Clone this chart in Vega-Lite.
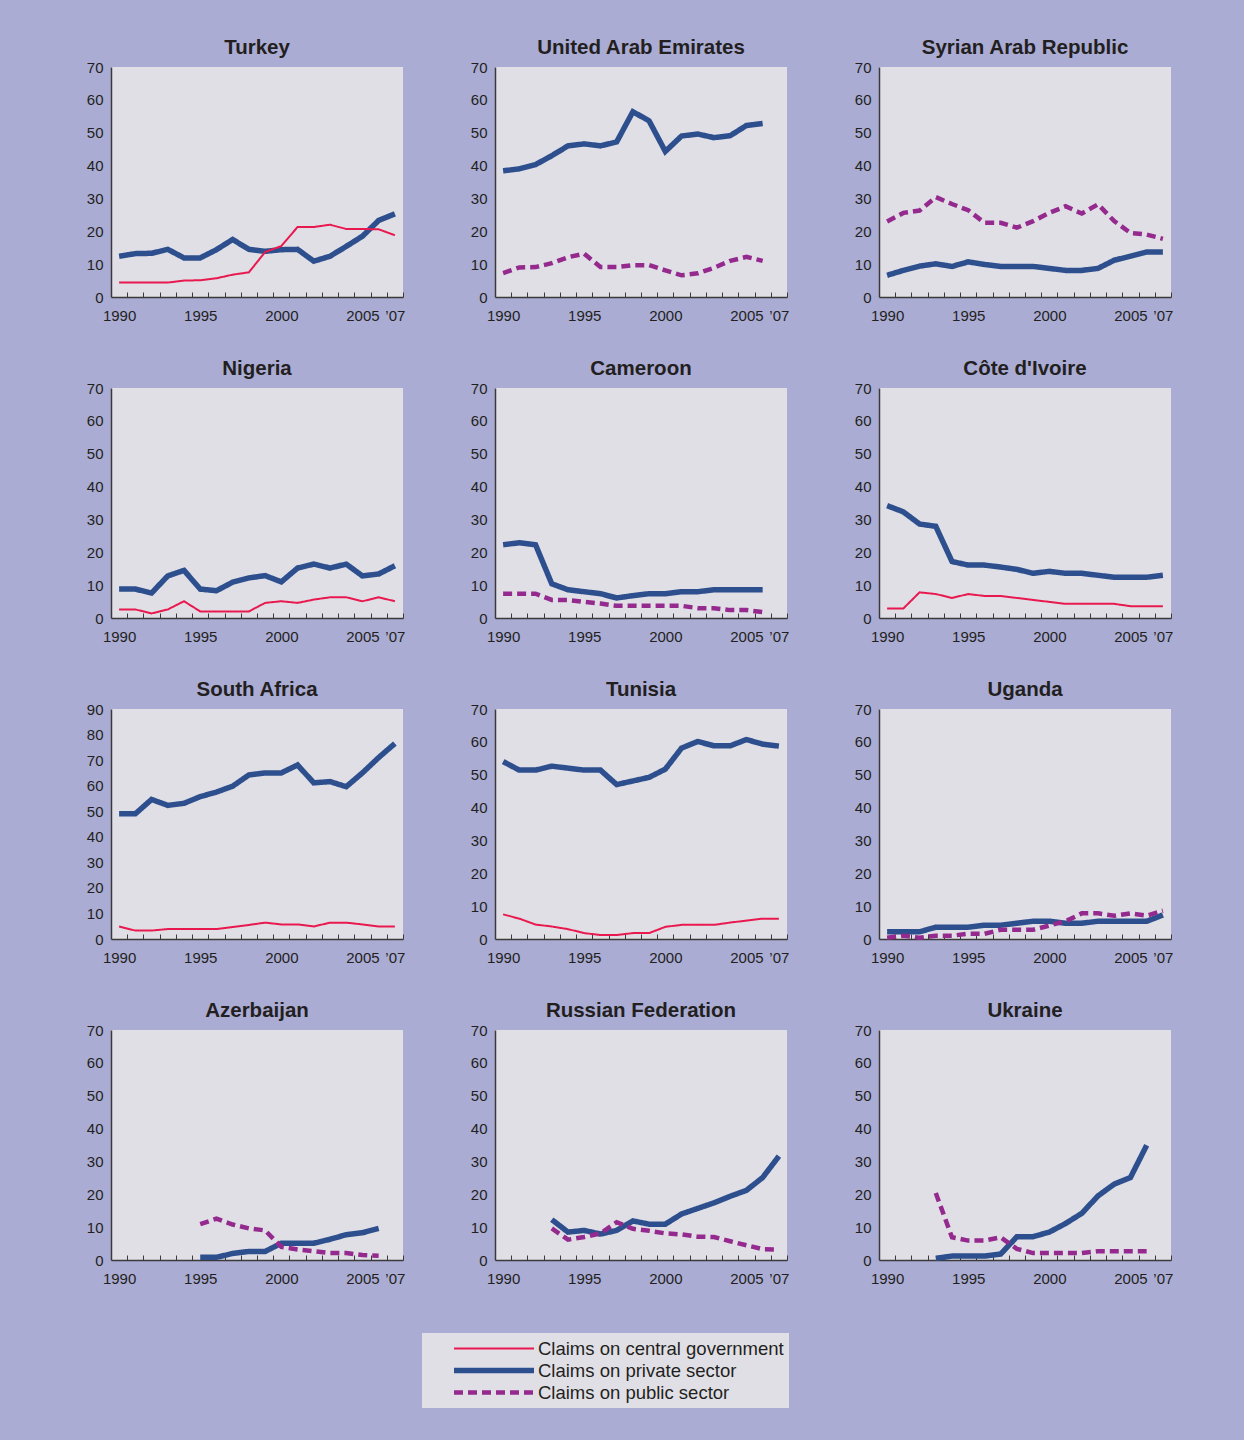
{
"$schema":"https://vega.github.io/schema/vega-lite/v6.json",
"background":"#AAACD4",
"padding":{"left":86,"top":37,"right":72,"bottom":32},
"columns":3,
"spacing":{"row":91,"column":92},
"bounds":"flush",
"resolve":{"scale":{"color":"shared","strokeWidth":"shared","strokeDash":"shared"},"legend":{"color":"shared","strokeWidth":"shared","strokeDash":"shared"}},
"datasets":{
"tr":[
{"s":"Claims on private sector","yr":1990,"v":12.4},{"s":"Claims on private sector","yr":1991,"v":13.2},{"s":"Claims on private sector","yr":1992,"v":13.3},{"s":"Claims on private sector","yr":1993,"v":14.5},{"s":"Claims on private sector","yr":1994,"v":11.9},{"s":"Claims on private sector","yr":1995,"v":11.9},{"s":"Claims on private sector","yr":1996,"v":14.4},{"s":"Claims on private sector","yr":1997,"v":17.5},{"s":"Claims on private sector","yr":1998,"v":14.5},{"s":"Claims on private sector","yr":1999,"v":13.9},{"s":"Claims on private sector","yr":2000,"v":14.4},{"s":"Claims on private sector","yr":2001,"v":14.5},{"s":"Claims on private sector","yr":2002,"v":10.9},{"s":"Claims on private sector","yr":2003,"v":12.4},{"s":"Claims on private sector","yr":2004,"v":15.4},{"s":"Claims on private sector","yr":2005,"v":18.5},{"s":"Claims on private sector","yr":2006,"v":23.3},{"s":"Claims on private sector","yr":2007,"v":25.3},
{"s":"Claims on central government","yr":1990,"v":4.4},{"s":"Claims on central government","yr":1991,"v":4.4},{"s":"Claims on central government","yr":1992,"v":4.4},{"s":"Claims on central government","yr":1993,"v":4.4},{"s":"Claims on central government","yr":1994,"v":5.0},{"s":"Claims on central government","yr":1995,"v":5.1},{"s":"Claims on central government","yr":1996,"v":5.7},{"s":"Claims on central government","yr":1997,"v":6.8},{"s":"Claims on central government","yr":1998,"v":7.5},{"s":"Claims on central government","yr":1999,"v":13.7},{"s":"Claims on central government","yr":2000,"v":15.5},{"s":"Claims on central government","yr":2001,"v":21.3},{"s":"Claims on central government","yr":2002,"v":21.3},{"s":"Claims on central government","yr":2003,"v":22.0},{"s":"Claims on central government","yr":2004,"v":20.7},{"s":"Claims on central government","yr":2005,"v":20.7},{"s":"Claims on central government","yr":2006,"v":20.6},{"s":"Claims on central government","yr":2007,"v":18.8}
],
"ae":[
{"s":"Claims on private sector","yr":1990,"v":38.4},{"s":"Claims on private sector","yr":1991,"v":39.0},{"s":"Claims on private sector","yr":1992,"v":40.3},{"s":"Claims on private sector","yr":1993,"v":43.0},{"s":"Claims on private sector","yr":1994,"v":46.0},{"s":"Claims on private sector","yr":1995,"v":46.6},{"s":"Claims on private sector","yr":1996,"v":46.0},{"s":"Claims on private sector","yr":1997,"v":47.2},{"s":"Claims on private sector","yr":1998,"v":56.4},{"s":"Claims on private sector","yr":1999,"v":53.6},{"s":"Claims on private sector","yr":2000,"v":44.3},{"s":"Claims on private sector","yr":2001,"v":49.0},{"s":"Claims on private sector","yr":2002,"v":49.6},{"s":"Claims on private sector","yr":2003,"v":48.5},{"s":"Claims on private sector","yr":2004,"v":49.1},{"s":"Claims on private sector","yr":2005,"v":52.2},{"s":"Claims on private sector","yr":2006,"v":52.8},
{"s":"Claims on public sector","yr":1990,"v":7.3},{"s":"Claims on public sector","yr":1991,"v":9.0},{"s":"Claims on public sector","yr":1992,"v":9.1},{"s":"Claims on public sector","yr":1993,"v":10.3},{"s":"Claims on public sector","yr":1994,"v":12.1},{"s":"Claims on public sector","yr":1995,"v":13.2},{"s":"Claims on public sector","yr":1996,"v":9.1},{"s":"Claims on public sector","yr":1997,"v":9.1},{"s":"Claims on public sector","yr":1998,"v":9.7},{"s":"Claims on public sector","yr":1999,"v":9.7},{"s":"Claims on public sector","yr":2000,"v":8.1},{"s":"Claims on public sector","yr":2001,"v":6.6},{"s":"Claims on public sector","yr":2002,"v":7.2},{"s":"Claims on public sector","yr":2003,"v":8.9},{"s":"Claims on public sector","yr":2004,"v":11.0},{"s":"Claims on public sector","yr":2005,"v":12.2},{"s":"Claims on public sector","yr":2006,"v":11.0}
],
"sy":[
{"s":"Claims on private sector","yr":1990,"v":6.6},{"s":"Claims on private sector","yr":1991,"v":8.1},{"s":"Claims on private sector","yr":1992,"v":9.4},{"s":"Claims on private sector","yr":1993,"v":10.1},{"s":"Claims on private sector","yr":1994,"v":9.3},{"s":"Claims on private sector","yr":1995,"v":10.7},{"s":"Claims on private sector","yr":1996,"v":9.9},{"s":"Claims on private sector","yr":1997,"v":9.3},{"s":"Claims on private sector","yr":1998,"v":9.3},{"s":"Claims on private sector","yr":1999,"v":9.3},{"s":"Claims on private sector","yr":2000,"v":8.7},{"s":"Claims on private sector","yr":2001,"v":8.1},{"s":"Claims on private sector","yr":2002,"v":8.1},{"s":"Claims on private sector","yr":2003,"v":8.7},{"s":"Claims on private sector","yr":2004,"v":11.2},{"s":"Claims on private sector","yr":2005,"v":12.4},{"s":"Claims on private sector","yr":2006,"v":13.7},{"s":"Claims on private sector","yr":2007,"v":13.7},
{"s":"Claims on public sector","yr":1990,"v":23.0},{"s":"Claims on public sector","yr":1991,"v":25.6},{"s":"Claims on public sector","yr":1992,"v":26.3},{"s":"Claims on public sector","yr":1993,"v":30.4},{"s":"Claims on public sector","yr":1994,"v":28.3},{"s":"Claims on public sector","yr":1995,"v":26.4},{"s":"Claims on public sector","yr":1996,"v":22.6},{"s":"Claims on public sector","yr":1997,"v":22.6},{"s":"Claims on public sector","yr":1998,"v":21.1},{"s":"Claims on public sector","yr":1999,"v":23.1},{"s":"Claims on public sector","yr":2000,"v":25.6},{"s":"Claims on public sector","yr":2001,"v":27.6},{"s":"Claims on public sector","yr":2002,"v":25.4},{"s":"Claims on public sector","yr":2003,"v":28.2},{"s":"Claims on public sector","yr":2004,"v":23.1},{"s":"Claims on public sector","yr":2005,"v":19.5},{"s":"Claims on public sector","yr":2006,"v":19.0},{"s":"Claims on public sector","yr":2007,"v":17.7}
],
"ng":[
{"s":"Claims on private sector","yr":1990,"v":8.8},{"s":"Claims on private sector","yr":1991,"v":8.8},{"s":"Claims on private sector","yr":1992,"v":7.6},{"s":"Claims on private sector","yr":1993,"v":12.8},{"s":"Claims on private sector","yr":1994,"v":14.5},{"s":"Claims on private sector","yr":1995,"v":8.8},{"s":"Claims on private sector","yr":1996,"v":8.3},{"s":"Claims on private sector","yr":1997,"v":10.9},{"s":"Claims on private sector","yr":1998,"v":12.2},{"s":"Claims on private sector","yr":1999,"v":12.9},{"s":"Claims on private sector","yr":2000,"v":11.0},{"s":"Claims on private sector","yr":2001,"v":15.2},{"s":"Claims on private sector","yr":2002,"v":16.4},{"s":"Claims on private sector","yr":2003,"v":15.2},{"s":"Claims on private sector","yr":2004,"v":16.4},{"s":"Claims on private sector","yr":2005,"v":12.8},{"s":"Claims on private sector","yr":2006,"v":13.4},{"s":"Claims on private sector","yr":2007,"v":15.9},
{"s":"Claims on central government","yr":1990,"v":2.6},{"s":"Claims on central government","yr":1991,"v":2.6},{"s":"Claims on central government","yr":1992,"v":1.4},{"s":"Claims on central government","yr":1993,"v":2.6},{"s":"Claims on central government","yr":1994,"v":5.1},{"s":"Claims on central government","yr":1995,"v":2.0},{"s":"Claims on central government","yr":1996,"v":2.0},{"s":"Claims on central government","yr":1997,"v":2.0},{"s":"Claims on central government","yr":1998,"v":2.0},{"s":"Claims on central government","yr":1999,"v":4.6},{"s":"Claims on central government","yr":2000,"v":5.1},{"s":"Claims on central government","yr":2001,"v":4.6},{"s":"Claims on central government","yr":2002,"v":5.6},{"s":"Claims on central government","yr":2003,"v":6.3},{"s":"Claims on central government","yr":2004,"v":6.3},{"s":"Claims on central government","yr":2005,"v":5.1},{"s":"Claims on central government","yr":2006,"v":6.3},{"s":"Claims on central government","yr":2007,"v":5.1}
],
"cm":[
{"s":"Claims on private sector","yr":1990,"v":22.3},{"s":"Claims on private sector","yr":1991,"v":22.9},{"s":"Claims on private sector","yr":1992,"v":22.3},{"s":"Claims on private sector","yr":1993,"v":10.4},{"s":"Claims on private sector","yr":1994,"v":8.6},{"s":"Claims on private sector","yr":1995,"v":8.0},{"s":"Claims on private sector","yr":1996,"v":7.4},{"s":"Claims on private sector","yr":1997,"v":6.1},{"s":"Claims on private sector","yr":1998,"v":6.8},{"s":"Claims on private sector","yr":1999,"v":7.4},{"s":"Claims on private sector","yr":2000,"v":7.4},{"s":"Claims on private sector","yr":2001,"v":8.0},{"s":"Claims on private sector","yr":2002,"v":8.0},{"s":"Claims on private sector","yr":2003,"v":8.6},{"s":"Claims on private sector","yr":2004,"v":8.6},{"s":"Claims on private sector","yr":2005,"v":8.6},{"s":"Claims on private sector","yr":2006,"v":8.6},
{"s":"Claims on public sector","yr":1990,"v":7.4},{"s":"Claims on public sector","yr":1991,"v":7.4},{"s":"Claims on public sector","yr":1992,"v":7.4},{"s":"Claims on public sector","yr":1993,"v":5.5},{"s":"Claims on public sector","yr":1994,"v":5.5},{"s":"Claims on public sector","yr":1995,"v":4.9},{"s":"Claims on public sector","yr":1996,"v":4.4},{"s":"Claims on public sector","yr":1997,"v":3.7},{"s":"Claims on public sector","yr":1998,"v":3.7},{"s":"Claims on public sector","yr":1999,"v":3.7},{"s":"Claims on public sector","yr":2000,"v":3.7},{"s":"Claims on public sector","yr":2001,"v":3.7},{"s":"Claims on public sector","yr":2002,"v":3.0},{"s":"Claims on public sector","yr":2003,"v":3.0},{"s":"Claims on public sector","yr":2004,"v":2.4},{"s":"Claims on public sector","yr":2005,"v":2.4},{"s":"Claims on public sector","yr":2006,"v":1.8}
],
"ci":[
{"s":"Claims on private sector","yr":1990,"v":34.2},{"s":"Claims on private sector","yr":1991,"v":32.3},{"s":"Claims on private sector","yr":1992,"v":28.6},{"s":"Claims on private sector","yr":1993,"v":27.9},{"s":"Claims on private sector","yr":1994,"v":17.2},{"s":"Claims on private sector","yr":1995,"v":16.1},{"s":"Claims on private sector","yr":1996,"v":16.1},{"s":"Claims on private sector","yr":1997,"v":15.5},{"s":"Claims on private sector","yr":1998,"v":14.8},{"s":"Claims on private sector","yr":1999,"v":13.6},{"s":"Claims on private sector","yr":2000,"v":14.2},{"s":"Claims on private sector","yr":2001,"v":13.6},{"s":"Claims on private sector","yr":2002,"v":13.6},{"s":"Claims on private sector","yr":2003,"v":13.0},{"s":"Claims on private sector","yr":2004,"v":12.4},{"s":"Claims on private sector","yr":2005,"v":12.4},{"s":"Claims on private sector","yr":2006,"v":12.4},{"s":"Claims on private sector","yr":2007,"v":13.0},
{"s":"Claims on central government","yr":1990,"v":2.9},{"s":"Claims on central government","yr":1991,"v":2.9},{"s":"Claims on central government","yr":1992,"v":7.8},{"s":"Claims on central government","yr":1993,"v":7.3},{"s":"Claims on central government","yr":1994,"v":6.1},{"s":"Claims on central government","yr":1995,"v":7.3},{"s":"Claims on central government","yr":1996,"v":6.7},{"s":"Claims on central government","yr":1997,"v":6.7},{"s":"Claims on central government","yr":1998,"v":6.1},{"s":"Claims on central government","yr":1999,"v":5.5},{"s":"Claims on central government","yr":2000,"v":4.9},{"s":"Claims on central government","yr":2001,"v":4.3},{"s":"Claims on central government","yr":2002,"v":4.3},{"s":"Claims on central government","yr":2003,"v":4.3},{"s":"Claims on central government","yr":2004,"v":4.3},{"s":"Claims on central government","yr":2005,"v":3.6},{"s":"Claims on central government","yr":2006,"v":3.6},{"s":"Claims on central government","yr":2007,"v":3.6}
],
"za":[
{"s":"Claims on private sector","yr":1990,"v":49.0},{"s":"Claims on private sector","yr":1991,"v":49.0},{"s":"Claims on private sector","yr":1992,"v":54.6},{"s":"Claims on private sector","yr":1993,"v":52.3},{"s":"Claims on private sector","yr":1994,"v":53.1},{"s":"Claims on private sector","yr":1995,"v":55.7},{"s":"Claims on private sector","yr":1996,"v":57.5},{"s":"Claims on private sector","yr":1997,"v":59.8},{"s":"Claims on private sector","yr":1998,"v":64.2},{"s":"Claims on private sector","yr":1999,"v":65.0},{"s":"Claims on private sector","yr":2000,"v":65.0},{"s":"Claims on private sector","yr":2001,"v":68.1},{"s":"Claims on private sector","yr":2002,"v":61.1},{"s":"Claims on private sector","yr":2003,"v":61.6},{"s":"Claims on private sector","yr":2004,"v":59.6},{"s":"Claims on private sector","yr":2005,"v":65.0},{"s":"Claims on private sector","yr":2006,"v":71.0},{"s":"Claims on private sector","yr":2007,"v":76.5},
{"s":"Claims on central government","yr":1990,"v":4.9},{"s":"Claims on central government","yr":1991,"v":3.3},{"s":"Claims on central government","yr":1992,"v":3.3},{"s":"Claims on central government","yr":1993,"v":3.9},{"s":"Claims on central government","yr":1994,"v":3.9},{"s":"Claims on central government","yr":1995,"v":3.9},{"s":"Claims on central government","yr":1996,"v":3.9},{"s":"Claims on central government","yr":1997,"v":4.7},{"s":"Claims on central government","yr":1998,"v":5.5},{"s":"Claims on central government","yr":1999,"v":6.4},{"s":"Claims on central government","yr":2000,"v":5.7},{"s":"Claims on central government","yr":2001,"v":5.7},{"s":"Claims on central government","yr":2002,"v":4.9},{"s":"Claims on central government","yr":2003,"v":6.4},{"s":"Claims on central government","yr":2004,"v":6.4},{"s":"Claims on central government","yr":2005,"v":5.7},{"s":"Claims on central government","yr":2006,"v":4.9},{"s":"Claims on central government","yr":2007,"v":4.9}
],
"tn":[
{"s":"Claims on private sector","yr":1990,"v":54.0},{"s":"Claims on private sector","yr":1991,"v":51.4},{"s":"Claims on private sector","yr":1992,"v":51.4},{"s":"Claims on private sector","yr":1993,"v":52.6},{"s":"Claims on private sector","yr":1994,"v":52.0},{"s":"Claims on private sector","yr":1995,"v":51.4},{"s":"Claims on private sector","yr":1996,"v":51.4},{"s":"Claims on private sector","yr":1997,"v":47.0},{"s":"Claims on private sector","yr":1998,"v":48.1},{"s":"Claims on private sector","yr":1999,"v":49.2},{"s":"Claims on private sector","yr":2000,"v":51.7},{"s":"Claims on private sector","yr":2001,"v":58.1},{"s":"Claims on private sector","yr":2002,"v":60.1},{"s":"Claims on private sector","yr":2003,"v":58.8},{"s":"Claims on private sector","yr":2004,"v":58.8},{"s":"Claims on private sector","yr":2005,"v":60.7},{"s":"Claims on private sector","yr":2006,"v":59.3},{"s":"Claims on private sector","yr":2007,"v":58.7},
{"s":"Claims on central government","yr":1990,"v":7.5},{"s":"Claims on central government","yr":1991,"v":6.2},{"s":"Claims on central government","yr":1992,"v":4.4},{"s":"Claims on central government","yr":1993,"v":3.8},{"s":"Claims on central government","yr":1994,"v":3.0},{"s":"Claims on central government","yr":1995,"v":1.8},{"s":"Claims on central government","yr":1996,"v":1.2},{"s":"Claims on central government","yr":1997,"v":1.2},{"s":"Claims on central government","yr":1998,"v":1.8},{"s":"Claims on central government","yr":1999,"v":1.8},{"s":"Claims on central government","yr":2000,"v":3.7},{"s":"Claims on central government","yr":2001,"v":4.3},{"s":"Claims on central government","yr":2002,"v":4.3},{"s":"Claims on central government","yr":2003,"v":4.3},{"s":"Claims on central government","yr":2004,"v":5.0},{"s":"Claims on central government","yr":2005,"v":5.6},{"s":"Claims on central government","yr":2006,"v":6.2},{"s":"Claims on central government","yr":2007,"v":6.2}
],
"ug":[
{"s":"Claims on private sector","yr":1990,"v":2.2},{"s":"Claims on private sector","yr":1991,"v":2.2},{"s":"Claims on private sector","yr":1992,"v":2.2},{"s":"Claims on private sector","yr":1993,"v":3.6},{"s":"Claims on private sector","yr":1994,"v":3.6},{"s":"Claims on private sector","yr":1995,"v":3.6},{"s":"Claims on private sector","yr":1996,"v":4.2},{"s":"Claims on private sector","yr":1997,"v":4.2},{"s":"Claims on private sector","yr":1998,"v":4.8},{"s":"Claims on private sector","yr":1999,"v":5.4},{"s":"Claims on private sector","yr":2000,"v":5.4},{"s":"Claims on private sector","yr":2001,"v":4.8},{"s":"Claims on private sector","yr":2002,"v":4.8},{"s":"Claims on private sector","yr":2003,"v":5.4},{"s":"Claims on private sector","yr":2004,"v":5.4},{"s":"Claims on private sector","yr":2005,"v":5.4},{"s":"Claims on private sector","yr":2006,"v":5.4},{"s":"Claims on private sector","yr":2007,"v":7.3},
{"s":"Claims on public sector","yr":1990,"v":0.4},{"s":"Claims on public sector","yr":1991,"v":1.0},{"s":"Claims on public sector","yr":1992,"v":0.4},{"s":"Claims on public sector","yr":1993,"v":1.0},{"s":"Claims on public sector","yr":1994,"v":1.0},{"s":"Claims on public sector","yr":1995,"v":1.6},{"s":"Claims on public sector","yr":1996,"v":1.6},{"s":"Claims on public sector","yr":1997,"v":2.8},{"s":"Claims on public sector","yr":1998,"v":2.8},{"s":"Claims on public sector","yr":1999,"v":2.8},{"s":"Claims on public sector","yr":2000,"v":4.1},{"s":"Claims on public sector","yr":2001,"v":5.4},{"s":"Claims on public sector","yr":2002,"v":7.8},{"s":"Claims on public sector","yr":2003,"v":7.8},{"s":"Claims on public sector","yr":2004,"v":7.1},{"s":"Claims on public sector","yr":2005,"v":7.8},{"s":"Claims on public sector","yr":2006,"v":7.1},{"s":"Claims on public sector","yr":2007,"v":8.6}
],
"az":[
{"s":"Claims on private sector","yr":1995,"v":0.8},{"s":"Claims on private sector","yr":1996,"v":0.8},{"s":"Claims on private sector","yr":1997,"v":2.0},{"s":"Claims on private sector","yr":1998,"v":2.6},{"s":"Claims on private sector","yr":1999,"v":2.6},{"s":"Claims on private sector","yr":2000,"v":5.1},{"s":"Claims on private sector","yr":2001,"v":5.1},{"s":"Claims on private sector","yr":2002,"v":5.1},{"s":"Claims on private sector","yr":2003,"v":6.3},{"s":"Claims on private sector","yr":2004,"v":7.7},{"s":"Claims on private sector","yr":2005,"v":8.3},{"s":"Claims on private sector","yr":2006,"v":9.6},
{"s":"Claims on public sector","yr":1995,"v":10.9},{"s":"Claims on public sector","yr":1996,"v":12.6},{"s":"Claims on public sector","yr":1997,"v":10.8},{"s":"Claims on public sector","yr":1998,"v":9.6},{"s":"Claims on public sector","yr":1999,"v":9.0},{"s":"Claims on public sector","yr":2000,"v":4.0},{"s":"Claims on public sector","yr":2001,"v":3.2},{"s":"Claims on public sector","yr":2002,"v":2.7},{"s":"Claims on public sector","yr":2003,"v":2.1},{"s":"Claims on public sector","yr":2004,"v":2.1},{"s":"Claims on public sector","yr":2005,"v":1.5},{"s":"Claims on public sector","yr":2006,"v":1.3}
],
"ru":[
{"s":"Claims on private sector","yr":1993,"v":12.3},{"s":"Claims on private sector","yr":1994,"v":8.5},{"s":"Claims on private sector","yr":1995,"v":9.0},{"s":"Claims on private sector","yr":1996,"v":7.9},{"s":"Claims on private sector","yr":1997,"v":9.0},{"s":"Claims on private sector","yr":1998,"v":11.9},{"s":"Claims on private sector","yr":1999,"v":10.9},{"s":"Claims on private sector","yr":2000,"v":10.9},{"s":"Claims on private sector","yr":2001,"v":14.0},{"s":"Claims on private sector","yr":2002,"v":15.7},{"s":"Claims on private sector","yr":2003,"v":17.4},{"s":"Claims on private sector","yr":2004,"v":19.4},{"s":"Claims on private sector","yr":2005,"v":21.2},{"s":"Claims on private sector","yr":2006,"v":25.1},{"s":"Claims on private sector","yr":2007,"v":31.6},
{"s":"Claims on public sector","yr":1993,"v":9.6},{"s":"Claims on public sector","yr":1994,"v":6.2},{"s":"Claims on public sector","yr":1995,"v":7.0},{"s":"Claims on public sector","yr":1996,"v":8.1},{"s":"Claims on public sector","yr":1997,"v":11.5},{"s":"Claims on public sector","yr":1998,"v":9.5},{"s":"Claims on public sector","yr":1999,"v":8.9},{"s":"Claims on public sector","yr":2000,"v":8.1},{"s":"Claims on public sector","yr":2001,"v":7.8},{"s":"Claims on public sector","yr":2002,"v":7.1},{"s":"Claims on public sector","yr":2003,"v":7.0},{"s":"Claims on public sector","yr":2004,"v":5.7},{"s":"Claims on public sector","yr":2005,"v":4.5},{"s":"Claims on public sector","yr":2006,"v":3.3},{"s":"Claims on public sector","yr":2007,"v":3.2}
],
"ua":[
{"s":"Claims on private sector","yr":1993,"v":0.5},{"s":"Claims on private sector","yr":1994,"v":1.2},{"s":"Claims on private sector","yr":1995,"v":1.2},{"s":"Claims on private sector","yr":1996,"v":1.2},{"s":"Claims on private sector","yr":1997,"v":1.8},{"s":"Claims on private sector","yr":1998,"v":7.1},{"s":"Claims on private sector","yr":1999,"v":7.1},{"s":"Claims on private sector","yr":2000,"v":8.5},{"s":"Claims on private sector","yr":2001,"v":11.1},{"s":"Claims on private sector","yr":2002,"v":14.2},{"s":"Claims on private sector","yr":2003,"v":19.5},{"s":"Claims on private sector","yr":2004,"v":23.1},{"s":"Claims on private sector","yr":2005,"v":25.1},{"s":"Claims on private sector","yr":2006,"v":34.9},
{"s":"Claims on public sector","yr":1993,"v":20.4},{"s":"Claims on public sector","yr":1994,"v":6.9},{"s":"Claims on public sector","yr":1995,"v":5.9},{"s":"Claims on public sector","yr":1996,"v":5.9},{"s":"Claims on public sector","yr":1997,"v":6.9},{"s":"Claims on public sector","yr":1998,"v":3.4},{"s":"Claims on public sector","yr":1999,"v":2.1},{"s":"Claims on public sector","yr":2000,"v":2.1},{"s":"Claims on public sector","yr":2001,"v":2.1},{"s":"Claims on public sector","yr":2002,"v":2.1},{"s":"Claims on public sector","yr":2003,"v":2.7},{"s":"Claims on public sector","yr":2004,"v":2.7},{"s":"Claims on public sector","yr":2005,"v":2.7},{"s":"Claims on public sector","yr":2006,"v":2.7}
]
},
"concat":[
{"title":"Turkey","width":292,"height":230,"data":{"name":"tr"},"mark":"line","encoding":{"x":{"field":"yr","type":"quantitative","title":null,"scale":{"domain":[1989.5,2007.5],"nice":false,"zero":false},"axis":{"values":[1990,1991,1992,1993,1994,1995,1996,1997,1998,1999,2000,2001,2002,2003,2004,2005,2006,2007],"format":"d","labelExpr":"datum.value==2007?'’07':(datum.value%5==0?datum.label:'')"}},"y":{"field":"v","type":"quantitative","title":null,"scale":{"domain":[0,70],"nice":false},"axis":{"values":[0,10,20,30,40,50,60,70]}},"color":{"field":"s","type":"nominal","title":null,"scale":{"domain":["Claims on central government","Claims on private sector","Claims on public sector"],"range":["#E8194F","#2D4F8E","#952A8E"]},"legend":{"orient":"none","legendX":311,"legendY":1266,"direction":"vertical"}},"strokeWidth":{"field":"s","type":"ordinal","title":null,"scale":{"type":"ordinal","domain":["Claims on central government","Claims on private sector","Claims on public sector"],"range":[2,5.5,4.5]}},"strokeDash":{"field":"s","type":"nominal","title":null,"scale":{"domain":["Claims on central government","Claims on private sector","Claims on public sector"],"range":[[1,0],[1,0],[9,5]]}}}},
{"title":"United Arab Emirates","width":292,"height":230,"data":{"name":"ae"},"mark":"line","encoding":{"x":{"field":"yr","type":"quantitative","title":null,"scale":{"domain":[1989.5,2007.5],"nice":false,"zero":false},"axis":{"values":[1990,1991,1992,1993,1994,1995,1996,1997,1998,1999,2000,2001,2002,2003,2004,2005,2006,2007],"format":"d","labelExpr":"datum.value==2007?'’07':(datum.value%5==0?datum.label:'')"}},"y":{"field":"v","type":"quantitative","title":null,"scale":{"domain":[0,70],"nice":false},"axis":{"values":[0,10,20,30,40,50,60,70]}},"color":{"field":"s","type":"nominal","title":null,"scale":{"domain":["Claims on central government","Claims on private sector","Claims on public sector"],"range":["#E8194F","#2D4F8E","#952A8E"]},"legend":{"orient":"none","legendX":311,"legendY":1266,"direction":"vertical"}},"strokeWidth":{"field":"s","type":"ordinal","title":null,"scale":{"type":"ordinal","domain":["Claims on central government","Claims on private sector","Claims on public sector"],"range":[2,5.5,4.5]}},"strokeDash":{"field":"s","type":"nominal","title":null,"scale":{"domain":["Claims on central government","Claims on private sector","Claims on public sector"],"range":[[1,0],[1,0],[9,5]]}}}},
{"title":"Syrian Arab Republic","width":292,"height":230,"data":{"name":"sy"},"mark":"line","encoding":{"x":{"field":"yr","type":"quantitative","title":null,"scale":{"domain":[1989.5,2007.5],"nice":false,"zero":false},"axis":{"values":[1990,1991,1992,1993,1994,1995,1996,1997,1998,1999,2000,2001,2002,2003,2004,2005,2006,2007],"format":"d","labelExpr":"datum.value==2007?'’07':(datum.value%5==0?datum.label:'')"}},"y":{"field":"v","type":"quantitative","title":null,"scale":{"domain":[0,70],"nice":false},"axis":{"values":[0,10,20,30,40,50,60,70]}},"color":{"field":"s","type":"nominal","title":null,"scale":{"domain":["Claims on central government","Claims on private sector","Claims on public sector"],"range":["#E8194F","#2D4F8E","#952A8E"]},"legend":{"orient":"none","legendX":311,"legendY":1266,"direction":"vertical"}},"strokeWidth":{"field":"s","type":"ordinal","title":null,"scale":{"type":"ordinal","domain":["Claims on central government","Claims on private sector","Claims on public sector"],"range":[2,5.5,4.5]}},"strokeDash":{"field":"s","type":"nominal","title":null,"scale":{"domain":["Claims on central government","Claims on private sector","Claims on public sector"],"range":[[1,0],[1,0],[9,5]]}}}},
{"title":"Nigeria","width":292,"height":230,"data":{"name":"ng"},"mark":"line","encoding":{"x":{"field":"yr","type":"quantitative","title":null,"scale":{"domain":[1989.5,2007.5],"nice":false,"zero":false},"axis":{"values":[1990,1991,1992,1993,1994,1995,1996,1997,1998,1999,2000,2001,2002,2003,2004,2005,2006,2007],"format":"d","labelExpr":"datum.value==2007?'’07':(datum.value%5==0?datum.label:'')"}},"y":{"field":"v","type":"quantitative","title":null,"scale":{"domain":[0,70],"nice":false},"axis":{"values":[0,10,20,30,40,50,60,70]}},"color":{"field":"s","type":"nominal","title":null,"scale":{"domain":["Claims on central government","Claims on private sector","Claims on public sector"],"range":["#E8194F","#2D4F8E","#952A8E"]},"legend":{"orient":"none","legendX":311,"legendY":1266,"direction":"vertical"}},"strokeWidth":{"field":"s","type":"ordinal","title":null,"scale":{"type":"ordinal","domain":["Claims on central government","Claims on private sector","Claims on public sector"],"range":[2,5.5,4.5]}},"strokeDash":{"field":"s","type":"nominal","title":null,"scale":{"domain":["Claims on central government","Claims on private sector","Claims on public sector"],"range":[[1,0],[1,0],[9,5]]}}}},
{"title":"Cameroon","width":292,"height":230,"data":{"name":"cm"},"mark":"line","encoding":{"x":{"field":"yr","type":"quantitative","title":null,"scale":{"domain":[1989.5,2007.5],"nice":false,"zero":false},"axis":{"values":[1990,1991,1992,1993,1994,1995,1996,1997,1998,1999,2000,2001,2002,2003,2004,2005,2006,2007],"format":"d","labelExpr":"datum.value==2007?'’07':(datum.value%5==0?datum.label:'')"}},"y":{"field":"v","type":"quantitative","title":null,"scale":{"domain":[0,70],"nice":false},"axis":{"values":[0,10,20,30,40,50,60,70]}},"color":{"field":"s","type":"nominal","title":null,"scale":{"domain":["Claims on central government","Claims on private sector","Claims on public sector"],"range":["#E8194F","#2D4F8E","#952A8E"]},"legend":{"orient":"none","legendX":311,"legendY":1266,"direction":"vertical"}},"strokeWidth":{"field":"s","type":"ordinal","title":null,"scale":{"type":"ordinal","domain":["Claims on central government","Claims on private sector","Claims on public sector"],"range":[2,5.5,4.5]}},"strokeDash":{"field":"s","type":"nominal","title":null,"scale":{"domain":["Claims on central government","Claims on private sector","Claims on public sector"],"range":[[1,0],[1,0],[9,5]]}}}},
{"title":"Côte d'Ivoire","width":292,"height":230,"data":{"name":"ci"},"mark":"line","encoding":{"x":{"field":"yr","type":"quantitative","title":null,"scale":{"domain":[1989.5,2007.5],"nice":false,"zero":false},"axis":{"values":[1990,1991,1992,1993,1994,1995,1996,1997,1998,1999,2000,2001,2002,2003,2004,2005,2006,2007],"format":"d","labelExpr":"datum.value==2007?'’07':(datum.value%5==0?datum.label:'')"}},"y":{"field":"v","type":"quantitative","title":null,"scale":{"domain":[0,70],"nice":false},"axis":{"values":[0,10,20,30,40,50,60,70]}},"color":{"field":"s","type":"nominal","title":null,"scale":{"domain":["Claims on central government","Claims on private sector","Claims on public sector"],"range":["#E8194F","#2D4F8E","#952A8E"]},"legend":{"orient":"none","legendX":311,"legendY":1266,"direction":"vertical"}},"strokeWidth":{"field":"s","type":"ordinal","title":null,"scale":{"type":"ordinal","domain":["Claims on central government","Claims on private sector","Claims on public sector"],"range":[2,5.5,4.5]}},"strokeDash":{"field":"s","type":"nominal","title":null,"scale":{"domain":["Claims on central government","Claims on private sector","Claims on public sector"],"range":[[1,0],[1,0],[9,5]]}}}},
{"title":"South Africa","width":292,"height":230,"data":{"name":"za"},"mark":"line","encoding":{"x":{"field":"yr","type":"quantitative","title":null,"scale":{"domain":[1989.5,2007.5],"nice":false,"zero":false},"axis":{"values":[1990,1991,1992,1993,1994,1995,1996,1997,1998,1999,2000,2001,2002,2003,2004,2005,2006,2007],"format":"d","labelExpr":"datum.value==2007?'’07':(datum.value%5==0?datum.label:'')"}},"y":{"field":"v","type":"quantitative","title":null,"scale":{"domain":[0,90],"nice":false},"axis":{"values":[0,10,20,30,40,50,60,70,80,90]}},"color":{"field":"s","type":"nominal","title":null,"scale":{"domain":["Claims on central government","Claims on private sector","Claims on public sector"],"range":["#E8194F","#2D4F8E","#952A8E"]},"legend":{"orient":"none","legendX":311,"legendY":1266,"direction":"vertical"}},"strokeWidth":{"field":"s","type":"ordinal","title":null,"scale":{"type":"ordinal","domain":["Claims on central government","Claims on private sector","Claims on public sector"],"range":[2,5.5,4.5]}},"strokeDash":{"field":"s","type":"nominal","title":null,"scale":{"domain":["Claims on central government","Claims on private sector","Claims on public sector"],"range":[[1,0],[1,0],[9,5]]}}}},
{"title":"Tunisia","width":292,"height":230,"data":{"name":"tn"},"mark":"line","encoding":{"x":{"field":"yr","type":"quantitative","title":null,"scale":{"domain":[1989.5,2007.5],"nice":false,"zero":false},"axis":{"values":[1990,1991,1992,1993,1994,1995,1996,1997,1998,1999,2000,2001,2002,2003,2004,2005,2006,2007],"format":"d","labelExpr":"datum.value==2007?'’07':(datum.value%5==0?datum.label:'')"}},"y":{"field":"v","type":"quantitative","title":null,"scale":{"domain":[0,70],"nice":false},"axis":{"values":[0,10,20,30,40,50,60,70]}},"color":{"field":"s","type":"nominal","title":null,"scale":{"domain":["Claims on central government","Claims on private sector","Claims on public sector"],"range":["#E8194F","#2D4F8E","#952A8E"]},"legend":{"orient":"none","legendX":311,"legendY":1266,"direction":"vertical"}},"strokeWidth":{"field":"s","type":"ordinal","title":null,"scale":{"type":"ordinal","domain":["Claims on central government","Claims on private sector","Claims on public sector"],"range":[2,5.5,4.5]}},"strokeDash":{"field":"s","type":"nominal","title":null,"scale":{"domain":["Claims on central government","Claims on private sector","Claims on public sector"],"range":[[1,0],[1,0],[9,5]]}}}},
{"title":"Uganda","width":292,"height":230,"data":{"name":"ug"},"mark":"line","encoding":{"x":{"field":"yr","type":"quantitative","title":null,"scale":{"domain":[1989.5,2007.5],"nice":false,"zero":false},"axis":{"values":[1990,1991,1992,1993,1994,1995,1996,1997,1998,1999,2000,2001,2002,2003,2004,2005,2006,2007],"format":"d","labelExpr":"datum.value==2007?'’07':(datum.value%5==0?datum.label:'')"}},"y":{"field":"v","type":"quantitative","title":null,"scale":{"domain":[0,70],"nice":false},"axis":{"values":[0,10,20,30,40,50,60,70]}},"color":{"field":"s","type":"nominal","title":null,"scale":{"domain":["Claims on central government","Claims on private sector","Claims on public sector"],"range":["#E8194F","#2D4F8E","#952A8E"]},"legend":{"orient":"none","legendX":311,"legendY":1266,"direction":"vertical"}},"strokeWidth":{"field":"s","type":"ordinal","title":null,"scale":{"type":"ordinal","domain":["Claims on central government","Claims on private sector","Claims on public sector"],"range":[2,5.5,4.5]}},"strokeDash":{"field":"s","type":"nominal","title":null,"scale":{"domain":["Claims on central government","Claims on private sector","Claims on public sector"],"range":[[1,0],[1,0],[9,5]]}}}},
{"title":"Azerbaijan","width":292,"height":230,"data":{"name":"az"},"mark":"line","encoding":{"x":{"field":"yr","type":"quantitative","title":null,"scale":{"domain":[1989.5,2007.5],"nice":false,"zero":false},"axis":{"values":[1990,1991,1992,1993,1994,1995,1996,1997,1998,1999,2000,2001,2002,2003,2004,2005,2006,2007],"format":"d","labelExpr":"datum.value==2007?'’07':(datum.value%5==0?datum.label:'')"}},"y":{"field":"v","type":"quantitative","title":null,"scale":{"domain":[0,70],"nice":false},"axis":{"values":[0,10,20,30,40,50,60,70]}},"color":{"field":"s","type":"nominal","title":null,"scale":{"domain":["Claims on central government","Claims on private sector","Claims on public sector"],"range":["#E8194F","#2D4F8E","#952A8E"]},"legend":{"orient":"none","legendX":311,"legendY":1266,"direction":"vertical"}},"strokeWidth":{"field":"s","type":"ordinal","title":null,"scale":{"type":"ordinal","domain":["Claims on central government","Claims on private sector","Claims on public sector"],"range":[2,5.5,4.5]}},"strokeDash":{"field":"s","type":"nominal","title":null,"scale":{"domain":["Claims on central government","Claims on private sector","Claims on public sector"],"range":[[1,0],[1,0],[9,5]]}}}},
{"title":"Russian Federation","width":292,"height":230,"data":{"name":"ru"},"mark":"line","encoding":{"x":{"field":"yr","type":"quantitative","title":null,"scale":{"domain":[1989.5,2007.5],"nice":false,"zero":false},"axis":{"values":[1990,1991,1992,1993,1994,1995,1996,1997,1998,1999,2000,2001,2002,2003,2004,2005,2006,2007],"format":"d","labelExpr":"datum.value==2007?'’07':(datum.value%5==0?datum.label:'')"}},"y":{"field":"v","type":"quantitative","title":null,"scale":{"domain":[0,70],"nice":false},"axis":{"values":[0,10,20,30,40,50,60,70]}},"color":{"field":"s","type":"nominal","title":null,"scale":{"domain":["Claims on central government","Claims on private sector","Claims on public sector"],"range":["#E8194F","#2D4F8E","#952A8E"]},"legend":{"orient":"none","legendX":311,"legendY":1266,"direction":"vertical"}},"strokeWidth":{"field":"s","type":"ordinal","title":null,"scale":{"type":"ordinal","domain":["Claims on central government","Claims on private sector","Claims on public sector"],"range":[2,5.5,4.5]}},"strokeDash":{"field":"s","type":"nominal","title":null,"scale":{"domain":["Claims on central government","Claims on private sector","Claims on public sector"],"range":[[1,0],[1,0],[9,5]]}}}},
{"title":"Ukraine","width":292,"height":230,"data":{"name":"ua"},"mark":"line","encoding":{"x":{"field":"yr","type":"quantitative","title":null,"scale":{"domain":[1989.5,2007.5],"nice":false,"zero":false},"axis":{"values":[1990,1991,1992,1993,1994,1995,1996,1997,1998,1999,2000,2001,2002,2003,2004,2005,2006,2007],"format":"d","labelExpr":"datum.value==2007?'’07':(datum.value%5==0?datum.label:'')"}},"y":{"field":"v","type":"quantitative","title":null,"scale":{"domain":[0,70],"nice":false},"axis":{"values":[0,10,20,30,40,50,60,70]}},"color":{"field":"s","type":"nominal","title":null,"scale":{"domain":["Claims on central government","Claims on private sector","Claims on public sector"],"range":["#E8194F","#2D4F8E","#952A8E"]},"legend":{"orient":"none","legendX":311,"legendY":1266,"direction":"vertical"}},"strokeWidth":{"field":"s","type":"ordinal","title":null,"scale":{"type":"ordinal","domain":["Claims on central government","Claims on private sector","Claims on public sector"],"range":[2,5.5,4.5]}},"strokeDash":{"field":"s","type":"nominal","title":null,"scale":{"domain":["Claims on central government","Claims on private sector","Claims on public sector"],"range":[[1,0],[1,0],[9,5]]}}}}
],
"config":{
"font":"Liberation Sans",
"view":{"fill":"#E1DFE6","stroke":null},
"axis":{"labelFont":"Liberation Sans","labelFontSize":15,"labelColor":"#231F20","domainColor":"#3A3A3A","domainWidth":1.5,"tickColor":"#3A3A3A","tickWidth":1,"grid":false},
"axisX":{"tickSize":-5,"tickOffset":8.11,"labelOffset":-8.11,"labelPadding":16,"labelFlush":false,"labelOverlap":false},
"axisY":{"ticks":false,"labelPadding":8,"labelOverlap":false},
"title":{"font":"Liberation Sans","fontSize":20.5,"fontWeight":"bold","color":"#231F20","anchor":"middle","offset":2,"baseline":"alphabetic"},
"legend":{"fillColor":"#E1DFE6","padding":5,"labelFont":"Liberation Sans","labelFontSize":18.5,"labelColor":"#231F20","labelLimit":0,"symbolType":"stroke","symbolSize":6400,"symbolOffset":24,"labelOffset":1,"clipHeight":21,"rowPadding":1}
}
}
